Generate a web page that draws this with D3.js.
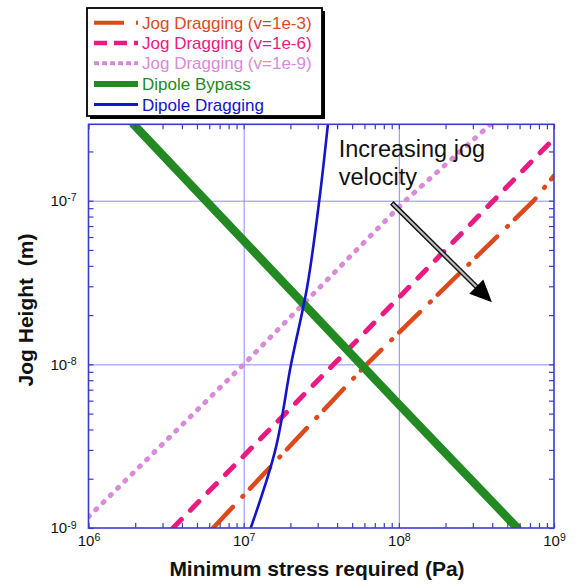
<!DOCTYPE html>
<html><head><meta charset="utf-8">
<script src="https://cdn.jsdelivr.net/npm/d3@7"></script>
<style>
body{margin:0;background:#fff}
text{font-family:"Liberation Sans",Arial,Helvetica,sans-serif}
</style>
</head><body>
<svg id="c" width="578" height="588"></svg>
<script>
// ---- data ----
const xDomain = [1e6, 1e9];
const yDomain = [1e-9, 2.93e-7];
const xTickExponents = ["6", "7", "8", "9"];
const yTickExponents = ["-9", "-8", "-7"];
const xTitle = "Minimum stress required (Pa)";
const yTitle = "Jog Height\u00a0\u00a0(m)";
const seriesNames = ["Jog Dragging (v=1e-3)", "Jog Dragging (v=1e-6)", "Jog Dragging (v=1e-9)", "Dipole Bypass", "Dipole Dragging"];
const seriesColors = ["#dc4a1c", "#ea1a80", "#d98ad9", "#238a23", "#1414c8"];

const jog3Stress = [6.35e6, 6.2e7, 7.4e8, 1e9];
const jog3Height = [1e-9, 1e-8, 1e-7, 1.42e-7];
const jog6Stress = [3.5e6, 3.8e7, 4.07e8, 1e9];
const jog6Height = [1e-9, 1e-8, 1e-7, 2.4e-7];
const jog9Stress = [1e6, 1e7, 1.1e8, 3.9e8];
const jog9Height = [1.17e-9, 1e-8, 1e-7, 2.93e-7];
const bypassStress = [1.95e6, 1e7, 1e8, 5.8e8];
const bypassHeight = [2.93e-7, 5.7e-8, 5.7e-9, 1e-9];
const draggingStress = [1.11e7, 1.6e7, 2.02e7, 2.57e7, 3.07e7, 3.49e7];
const draggingHeight = [1e-9, 3e-9, 1e-8, 3e-8, 1e-7, 2.93e-7];

const annotationLines = ["Increasing jog", "velocity"];
const annotationAt = [4.1e7, 1.85e-7];
const arrowFrom = [9.0e7, 9.7e-8];
const arrowTo = [3.98e8, 2.4e-8];

// ---- layout ----
const L = 88.5, R = 554, T = 124.3, B = 528;
const svg = d3.select("#c");
const x = d3.scaleLog().domain(xDomain).range([L, R]);
const y = d3.scaleLog().domain(yDomain).range([B, T]);
const frameColor = "#3a3ad0", gridColor = "#8a8af0";

const isDecade = d => Math.abs(Math.log10(d) - Math.round(Math.log10(d))) < 1e-6;

// grid
const xDec = x.ticks().filter(isDecade).filter(d => d > xDomain[0] * 1.01 && d < xDomain[1] * 0.99);
const yDec = y.ticks().filter(isDecade).filter(d => d > yDomain[0] * 1.01 && d < yDomain[1] * 0.99);
const gGridX = svg.append("g").attr("transform", `translate(0,${B})`)
  .call(d3.axisBottom(x).tickValues(xDec).tickSize(-(B - T)).tickFormat(""));
const gGridY = svg.append("g").attr("transform", `translate(${L},0)`)
  .call(d3.axisLeft(y).tickValues(yDec).tickSize(-(R - L)).tickFormat(""));
[gGridX, gGridY].forEach(g => {
  g.select(".domain").remove();
  g.selectAll("line").attr("stroke", gridColor).attr("stroke-width", 1);
});

// series
const clip = svg.append("clipPath").attr("id", "plotclip");
clip.append("rect").attr("x", L).attr("y", T).attr("width", R - L).attr("height", B - T);
const line = d3.line().x(d => x(d[0])).y(d => y(d[1]));
const zip = (a, b) => a.map((v, i) => [v, b[i]]);
const series = [
  {pts: zip(jog3Stress, jog3Height), w: 4.5, dash: "29,14,1,10", curve: d3.curveLinear},
  {pts: zip(jog6Stress, jog6Height), w: 5, dash: "12,13", curve: d3.curveLinear},
  {pts: zip(jog9Stress, jog9Height), w: 5, dash: "1.2,9", curve: d3.curveLinear},
  {pts: zip(bypassStress, bypassHeight), w: 8.5, dash: null, curve: d3.curveLinear},
  {pts: zip(draggingStress, draggingHeight), w: 2.6, dash: null, curve: d3.curveCatmullRom},
];
const gS = svg.append("g").attr("clip-path", "url(#plotclip)");
series.forEach((s, i) => {
  gS.append("path").attr("d", line.curve(s.curve)(s.pts))
    .attr("fill", "none").attr("stroke", seriesColors[i]).attr("stroke-width", s.w)
    .attr("stroke-linecap", "round").attr("stroke-linejoin", "round")
    .attr("stroke-dasharray", s.dash);
});

// frame
svg.append("rect").attr("x", L).attr("y", T).attr("width", R - L).attr("height", B - T)
  .attr("fill", "none").attr("stroke", frameColor).attr("stroke-width", 1.6);

// axes
function styleAxis(g) {
  g.attr("font-size", 15).attr("font-family", null);
  g.select(".domain").remove();
  g.selectAll(".tick line").attr("stroke", frameColor).attr("stroke-width", 1.2);
  g.selectAll(".tick text").attr("fill", "#111");
}
const gx = svg.append("g").attr("transform", `translate(0,${B})`)
  .call(d3.axisBottom(x).tickValues(x.ticks()).tickSizeInner(-5).tickSizeOuter(0).tickPadding(7)
    .tickFormat(d => isDecade(d) ? "10" : ""));
styleAxis(gx);
gx.selectAll(".tick text").each(function(d) {
  if (!isDecade(d)) return;
  const e = Math.round(Math.log10(d)) - 6;
  d3.select(this).append("tspan").attr("dy", "-0.45em").attr("font-size", 10.5).text(xTickExponents[e]);
});
const gy = svg.append("g").attr("transform", `translate(${L},0)`)
  .call(d3.axisLeft(y).tickValues(y.ticks()).tickSizeInner(-5).tickSizeOuter(0).tickPadding(12)
    .tickFormat(d => isDecade(d) ? "10" : ""));
styleAxis(gy);
gy.selectAll(".tick text").each(function(d) {
  if (!isDecade(d)) return;
  const e = Math.round(Math.log10(d)) + 9;
  d3.select(this).append("tspan").attr("dy", "-0.45em").attr("font-size", 10.5).text(yTickExponents[e]);
});
const gxt = svg.append("g").attr("transform", `translate(0,${T})`)
  .call(d3.axisTop(x).tickValues(x.ticks()).tickSizeInner(-5).tickSizeOuter(0).tickFormat(""));
styleAxis(gxt);
const gyr = svg.append("g").attr("transform", `translate(${R},0)`)
  .call(d3.axisRight(y).tickValues(y.ticks()).tickSizeInner(-5).tickSizeOuter(0).tickFormat(""));
styleAxis(gyr);

// axis titles
svg.append("text").attr("x", 317).attr("y", 576).attr("text-anchor", "middle")
  .attr("font-size", 21).attr("font-weight", "bold").attr("fill", "#111").text(xTitle);
svg.append("text").attr("transform", "translate(33,310) rotate(-90)").attr("text-anchor", "middle")
  .attr("font-size", 21).attr("font-weight", "bold").attr("fill", "#111").text(yTitle);

// annotation
const at = svg.append("text").attr("x", x(annotationAt[0])).attr("y", y(annotationAt[1]))
  .attr("font-size", 23.5).attr("fill", "#111");
annotationLines.forEach((t, i) => at.append("tspan").attr("x", x(annotationAt[0])).attr("dy", i ? 28 : 0).text(t));

const ax0 = x(arrowFrom[0]), ay0 = y(arrowFrom[1]), ax1 = x(arrowTo[0]), ay1 = y(arrowTo[1]);
const len = Math.hypot(ax1 - ax0, ay1 - ay0), ux = (ax1 - ax0) / len, uy = (ay1 - ay0) / len;
const headLen = 22, headHalf = 10;
const bx = ax1 - ux * headLen, by = ay1 - uy * headLen;
svg.append("line").attr("x1", ax0).attr("y1", ay0).attr("x2", bx + ux * 2).attr("y2", by + uy * 2)
  .attr("stroke", "#111").attr("stroke-width", 5);
svg.append("line").attr("x1", ax0 + ux * 1.2).attr("y1", ay0 + uy * 1.2).attr("x2", bx + ux * 2).attr("y2", by + uy * 2)
  .attr("stroke", "#bdbdbd").attr("stroke-width", 2.2);
svg.append("path")
  .attr("d", `M${ax1},${ay1}L${bx - uy * headHalf},${by + ux * headHalf}L${bx + uy * headHalf},${by - ux * headHalf}Z`)
  .attr("fill", "#000");

// legend
const lg = svg.append("g");
lg.append("rect").attr("x", 90).attr("y", 11).attr("width", 235).attr("height", 108).attr("fill", "#000");
lg.append("rect").attr("x", 87).attr("y", 8).attr("width", 235).attr("height", 108)
  .attr("fill", "#fff").attr("stroke", "#000").attr("stroke-width", 1.8);
const legendRows = [22.7, 42.9, 63.3, 84, 104.6];
const legendW = [4, 4.5, 4, 6, 3];
const legendDash = ["30,12,5,0", "13,7", "5,3", null, null];
seriesNames.forEach((n, i) => {
  lg.append("line").attr("x1", 94).attr("x2", 138).attr("y1", legendRows[i]).attr("y2", legendRows[i])
    .attr("stroke", seriesColors[i]).attr("stroke-width", legendW[i]).attr("stroke-dasharray", legendDash[i]);
  lg.append("text").attr("x", 142).attr("y", legendRows[i] + 6).attr("font-size", 17)
    .attr("fill", seriesColors[i]).text(n);
});
</script>
</body></html>
